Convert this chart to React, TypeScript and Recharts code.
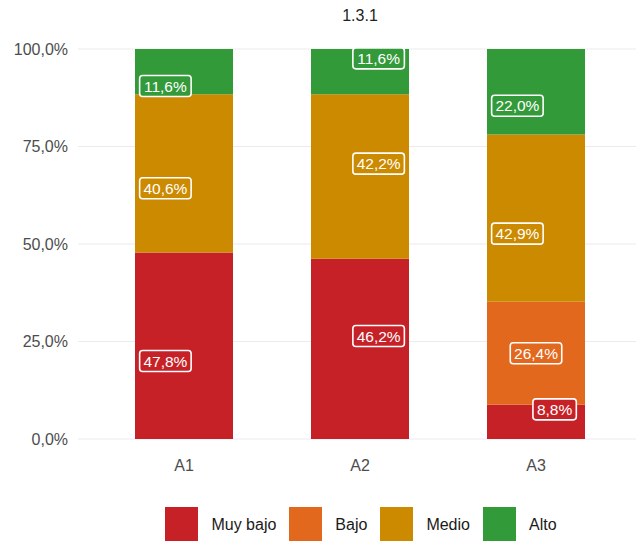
import { Bar, BarChart, CartesianGrid, LabelList, Legend, XAxis, YAxis } from "recharts";

const categories = ["A1", "A2", "A3"];
const muyBajo = [47.8, 46.2, 8.8];
const bajo = [0, 0, 26.4];
const medio = [40.6, 42.2, 42.9];
const alto = [11.6, 11.6, 22.0];
const yTicks = [0, 25, 50, 75, 100];

// label jitter as in the source plot: x in bar widths, y in percentage points
const shiftX = { muyBajo: [-0.19, 0.19, 0.19], bajo: [0, 0, -0.19], medio: [-0.19, 0.19, -0.19], alto: [-0.19, 0.19, -0.19] };
const shiftY = { muyBajo: [-3.9, 3.3, 3.2], bajo: [0, 0, -4.0], medio: [-3.8, 3.3, -4.0], alto: [-3.7, 3.4, -3.6] };

const series = [
  { key: "muyBajo", name: "Muy bajo", color: "#C62127", values: muyBajo },
  { key: "bajo", name: "Bajo", color: "#E2681E", values: bajo },
  { key: "medio", name: "Medio", color: "#CC8A00", values: medio },
  { key: "alto", name: "Alto", color: "#339A3A", values: alto },
];

const data = categories.map((cat, i) => {
  const row: Record<string, string | number> = { cat };
  series.forEach((s) => (row[s.key] = s.values[i]));
  return row;
});

const FONT = "'Liberation Sans', Arial, sans-serif";
const fmt = (v: number) => v.toFixed(1).replace(".", ",") + "%";

function makeLabel(key: string, color: string) {
  return (props: any) => {
    const { x, y, width, height, value, index } = props;
    if (!value) return null;
    const pxPerPct = height / value;
    const cx = x + width / 2 + shiftX[key][index] * width;
    const cy = y + height / 2 - shiftY[key][index] * pxPerPct;
    const text = fmt(value);
    const w = text.length * 8.1 + 11;
    const h = 21;
    return (
      <g>
        <rect x={cx - w / 2} y={cy - h / 2} width={w} height={h} rx={3} fill={color} stroke="#ffffff" strokeWidth={1.6} />
        <text x={cx} y={cy + 5.5} textAnchor="middle" fill="#ffffff" fontSize={15.5} fontFamily={FONT}>
          {text}
        </text>
      </g>
    );
  };
}

function LegendBox() {
  return (
    <div style={{ display: "flex", justifyContent: "center", alignItems: "center", height: 34, fontSize: 16, color: "#1a1a1a", fontFamily: FONT }}>
      {series.map((s, i) => (
        <div key={s.key} style={{ display: "flex", alignItems: "center", marginRight: i < series.length - 1 ? 13 : 0 }}>
          <span style={{ display: "inline-block", width: 33, height: 34, background: s.color, marginRight: 13 }} />
          <span style={{ position: "relative", top: 1 }}>{s.name}</span>
        </div>
      ))}
    </div>
  );
}

export default function App() {
  return (
    <div style={{ position: "absolute", left: 0, top: 0, width: 636, height: 541, background: "#fff" }}>
      <div style={{ position: "absolute", left: 0, top: 6, width: 720, textAlign: "center", fontSize: 16, lineHeight: "19px", color: "#222", fontFamily: FONT }}>
        1.3.1
      </div>
      <BarChart width={636} height={541} data={data} margin={{ top: 49, right: 0, bottom: 0, left: 0 }} style={{ fontFamily: FONT }}>
        <CartesianGrid vertical={false} stroke="#ebebeb" strokeWidth={1.1} />
        <XAxis
          dataKey="cat"
          height={68}
          axisLine={false}
          tickLine={false}
          tickSize={6}
          tickMargin={15}
          padding={{ left: 18, right: 12 }}
          tick={{ fill: "#4d4d4d", fontSize: 16 }}
        />
        <YAxis
          width={78}
          domain={[0, 100]}
          allowDataOverflow
          ticks={yTicks}
          tickFormatter={fmt}
          axisLine={false}
          tickLine={false}
          tickMargin={4}
          tick={{ fill: "#4d4d4d", fontSize: 16 }}
        />
        {series.map((s) => (
          <Bar key={s.key} dataKey={s.key} name={s.name} stackId="a" fill={s.color} barSize={98} isAnimationActive={false}>
            <LabelList dataKey={s.key} content={makeLabel(s.key, s.color)} />
          </Bar>
        ))}
        <Legend verticalAlign="bottom" content={() => <LegendBox />} wrapperStyle={{ left: 78, width: 566, bottom: 0 }} />
      </BarChart>
    </div>
  );
}
